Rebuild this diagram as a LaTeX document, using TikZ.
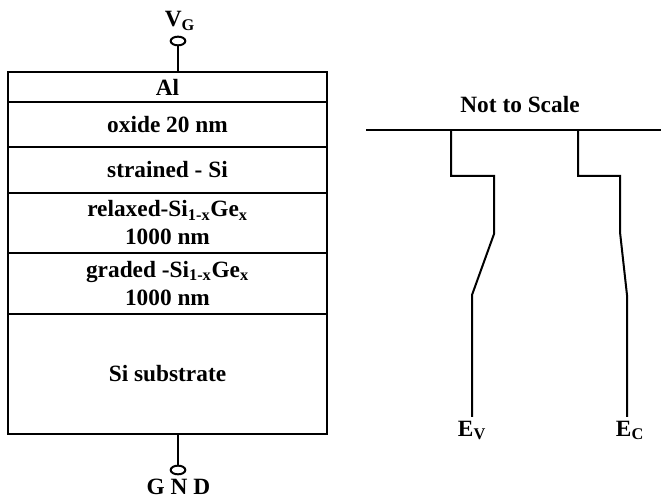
\documentclass[tikz,border=0pt]{standalone}
\usepackage{fontspec}
\setmainfont{Liberation Serif}
\usepackage{tikz}
\usetikzlibrary{positioning,shapes.geometric}

\begin{document}
\begin{tikzpicture}[x=0.75pt,y=-0.75pt,line width=1.5pt,
  txt/.style={font=\fontsize{17.5}{21}\selectfont\bfseries,align=center,inner sep=0pt},
  layer/.style={txt,draw,minimum width=239.25pt},
  term/.style={draw,ellipse,minimum width=11pt,minimum height=6.5pt,inner sep=0pt}]
  \useasboundingbox (0,0) rectangle (661,498);
  \node[layer,minimum height=22.5pt] (al) at (167.5,87) {Al};
  \node[layer,minimum height=33.75pt] (ox) at (167.5,124.5) {oxide 20 nm};
  \node[layer,minimum height=34.5pt] (ssi) at (167.5,170) {strained - Si};
  \node[layer,minimum height=45pt] (rel) at (167.5,223) {relaxed-Si\textsubscript{1-x}Ge\textsubscript{x}\\1000 nm};
  \node[layer,minimum height=45.75pt] (grd) at (167.5,283.5) {graded -Si\textsubscript{1-x}Ge\textsubscript{x}\\1000 nm};
  \node[layer,minimum height=90pt] (sub) at (167.5,374) {Si substrate};
  \node[term] (vg) at (178,41) {};
  \node[term] (gnd) at (178,470) {};
  \node[txt] (vglbl) at (180,21) {V\textsubscript{G}};
  \node[txt] (gndlbl) at (178.5,487) {G N D};
  \draw (vg |- al.north) -- (vg.south);
  \draw (gnd |- sub.south) -- (gnd.north);
  \node[txt] (nts) at (520,105) {Not to Scale};
  \coordinate (vacl) at (366,130);
  \coordinate (vacr) at (661,130);
  \draw (vacl) -- (vacr);
  \node[txt,anchor=north] (ev) at (472,420) {E\textsubscript{V}};
  \node[txt,anchor=north] (ec) at (630,420) {E\textsubscript{C}};
  \draw (451,130) -- (451,176) -- (494,176) -- (494,234) -- (472,295) -- (472,417);
  \draw (578,130) -- (578,176) -- (620,176) -- (620,232) -- (627,295) -- (627,417);
\end{tikzpicture}
\end{document}
